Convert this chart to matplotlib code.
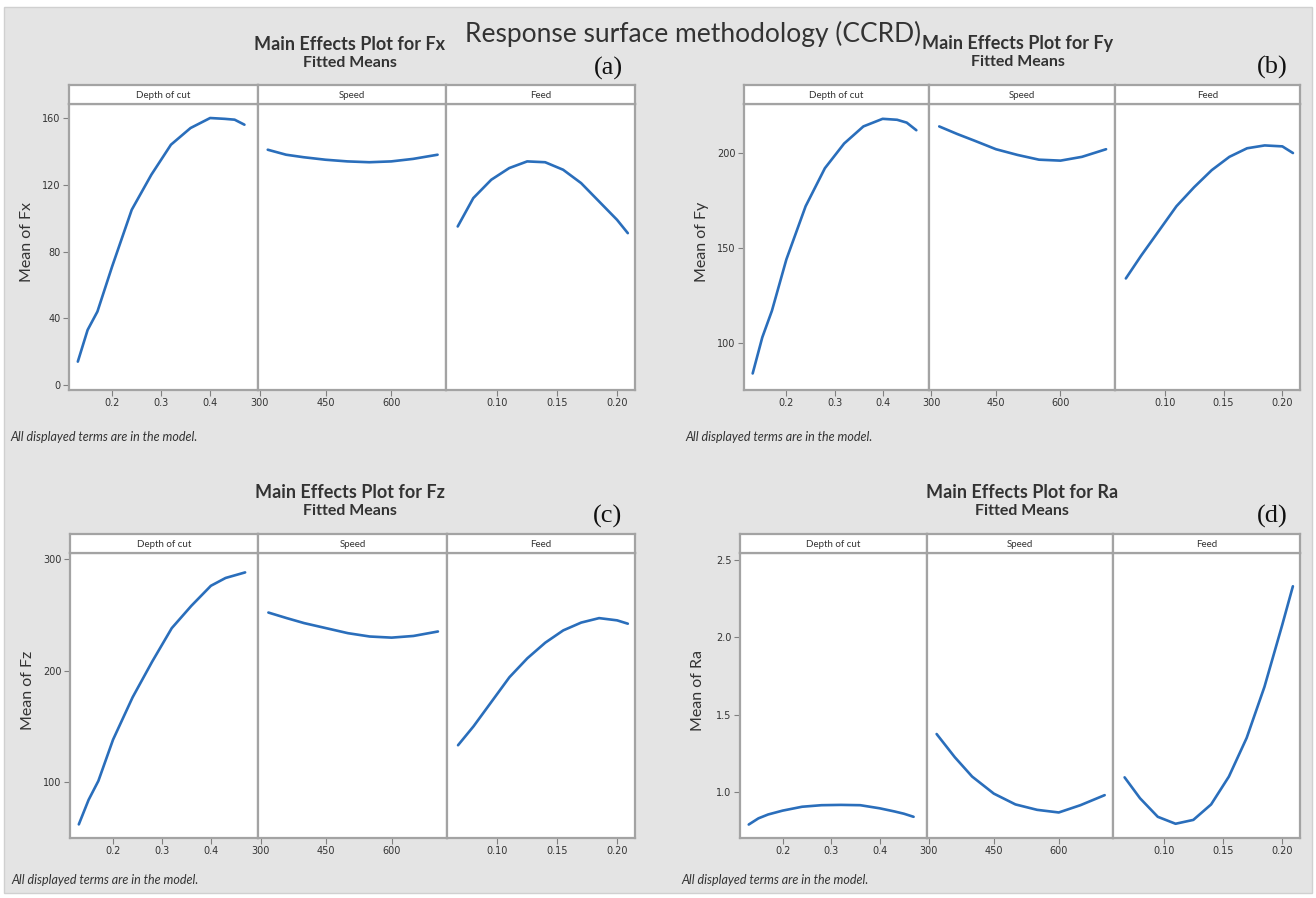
import matplotlib
matplotlib.use('Agg')
import matplotlib.pyplot as plt
from matplotlib.patches import Rectangle

# ----- factor levels (x values of the fitted curves) -----
depth = [0.13, 0.15, 0.17, 0.20, 0.24, 0.28, 0.32, 0.36, 0.40, 0.43, 0.45, 0.47]
speed = [318, 360, 400, 450, 500, 550, 600, 650, 706]
feed = [0.067, 0.080, 0.095, 0.110, 0.125, 0.140, 0.155, 0.170, 0.185, 0.200, 0.209]

factors = ['Depth of cut', 'Speed', 'Feed']

# ----- fitted means -----
fx_depth = [14, 33, 44, 71, 105, 126, 144, 154, 160, 159.5, 159, 156]
fx_speed = [141, 138, 136.5, 135, 134, 133.5, 134, 135.5, 138]
fx_feed = [95, 112, 123, 130, 134, 133.5, 129, 121, 110, 99, 91]

fy_depth = [84, 103, 117, 144, 172, 192, 205, 214, 218, 217.5, 216, 212]
fy_speed = [214, 210, 206.5, 202, 199, 196.5, 196, 198, 202]
fy_feed = [134, 146, 159, 172, 182, 191, 198, 202.5, 204, 203.5, 200]

fz_depth = [62, 84, 101, 138, 176, 208, 238, 258, 276, 283, 285.5, 288]
fz_speed = [252, 247, 242.5, 238, 233.5, 230.5, 229.5, 231, 235]
fz_feed = [133, 150, 172, 194, 211, 225, 236, 243, 247, 245, 242]

ra_depth = [0.79, 0.83, 0.855, 0.88, 0.905, 0.915, 0.917, 0.915, 0.895, 0.875, 0.86, 0.84]
ra_speed = [1.375, 1.225, 1.10, 0.99, 0.92, 0.885, 0.868, 0.915, 0.98]
ra_feed = [1.095, 0.96, 0.84, 0.795, 0.82, 0.92, 1.10, 1.35, 1.68, 2.08, 2.33]

x_ticks = [[0.2, 0.3, 0.4], [300, 450, 600], [0.10, 0.15, 0.20]]
x_labels = [['0.2', '0.3', '0.4'], ['300', '450', '600'], ['0.10', '0.15', '0.20']]
x_lims = [(0.112, 0.497), (295, 726), (0.0575, 0.215)]

fx_ticks = [0, 40, 80, 120, 160]
fy_ticks = [100, 150, 200]
fz_ticks = [100, 200, 300]
ra_ticks = [1.0, 1.5, 2.0, 2.5]

W, H = 1316, 898
BG = '#e4e4e4'
FRAME = '#a3a3a3'
LINE = '#2a6ebb'
TXT = '#333333'

fig = plt.figure(figsize=(W / 100, H / 100), dpi=100)
fig.patch.set_facecolor('white')
fig.patches.append(Rectangle((4 / W, 5 / H), (W - 8) / W, (H - 12) / H,
                             transform=fig.transFigure, facecolor=BG,
                             edgecolor='#d0d0d0', lw=1, zorder=-10))


def px(x, y):
    return x / W, 1 - y / H


def block(name, series, yticks, ylim, left, right, top, bottom, tag, tag_x, title_x, title_y):
    width = (right - left) / 3
    strip_h = 19
    for i in range(3):
        x0 = left + i * width
        ax = fig.add_axes([x0 / W, 1 - bottom / H, width / W, (bottom - top) / H])
        ax.plot([depth, speed, feed][i], series[i], color=LINE, lw=1.9, solid_capstyle='round')
        ax.set_xlim(x_lims[i])
        ax.set_ylim(ylim)
        ax.set_xticks(x_ticks[i])
        ax.set_xticklabels(x_labels[i])
        ax.set_yticks(yticks)
        if i > 0:
            ax.tick_params(axis='y', left=False, labelleft=False)
        for s in ax.spines.values():
            s.set_color(FRAME)
            s.set_linewidth(1.6)
        ax.tick_params(axis='both', direction='out', length=4, width=0.8, color='#808080',
                       labelsize=7, labelcolor=TXT, pad=2)

        st = fig.add_axes([x0 / W, 1 - top / H, width / W, strip_h / H])
        st.set_xticks([])
        st.set_yticks([])
        st.set_facecolor('white')
        for s in st.spines.values():
            s.set_color(FRAME)
            s.set_linewidth(1.6)
        st.text(0.5, 0.45, factors[i], ha='center', va='center', fontsize=7,
                color=TXT, family='Lato', transform=st.transAxes)

    fig.text(*px(left - 42, (top + bottom) / 2 - 5), 'Mean of ' + name, rotation=90,
             ha='center', va='center', fontsize=11.5, color=TXT, family='Lato')
    fig.text(*px(title_x, title_y), 'Main Effects Plot for ' + name, ha='center', va='center',
             fontsize=13, fontweight='bold', color=TXT, family='Lato')
    fig.text(*px(title_x, title_y + 19), 'Fitted Means', ha='center', va='center',
             fontsize=11.5, fontweight='bold', color=TXT, family='Lato')
    fig.text(*px(tag_x, title_y + 24), tag, ha='center', va='center', fontsize=19,
             family='Liberation Serif', color='#111111')
    fig.text(*px(left - 59, bottom + (47 if top < 300 else 42)), 'All displayed terms are in the model.',
             ha='left', va='center', fontsize=9, style='italic', color=TXT, family='Lato')


block('Fx', [fx_depth, fx_speed, fx_feed], fx_ticks, (-3, 168.4),
      69, 635, 104, 390, '(a)', 608, 350, 44)
block('Fy', [fy_depth, fy_speed, fy_feed], fy_ticks, (75.3, 225.8),
      744, 1300, 104, 390, '(b)', 1272, 1018, 43)
block('Fz', [fz_depth, fz_speed, fz_feed], fz_ticks, (49.8, 305.4),
      70, 635, 553, 838, '(c)', 608, 350, 492)
block('Ra', [ra_depth, ra_speed, ra_feed], ra_ticks, (0.703, 2.545),
      740, 1300, 553, 838, '(d)', 1272, 1022, 492)

fig.text(*px(693, 34), 'Response surface methodology (CCRD)', ha='center', va='center',
         fontsize=19, color=TXT, family='Lato')

fig.savefig('out.png', dpi=100, facecolor=fig.get_facecolor())
